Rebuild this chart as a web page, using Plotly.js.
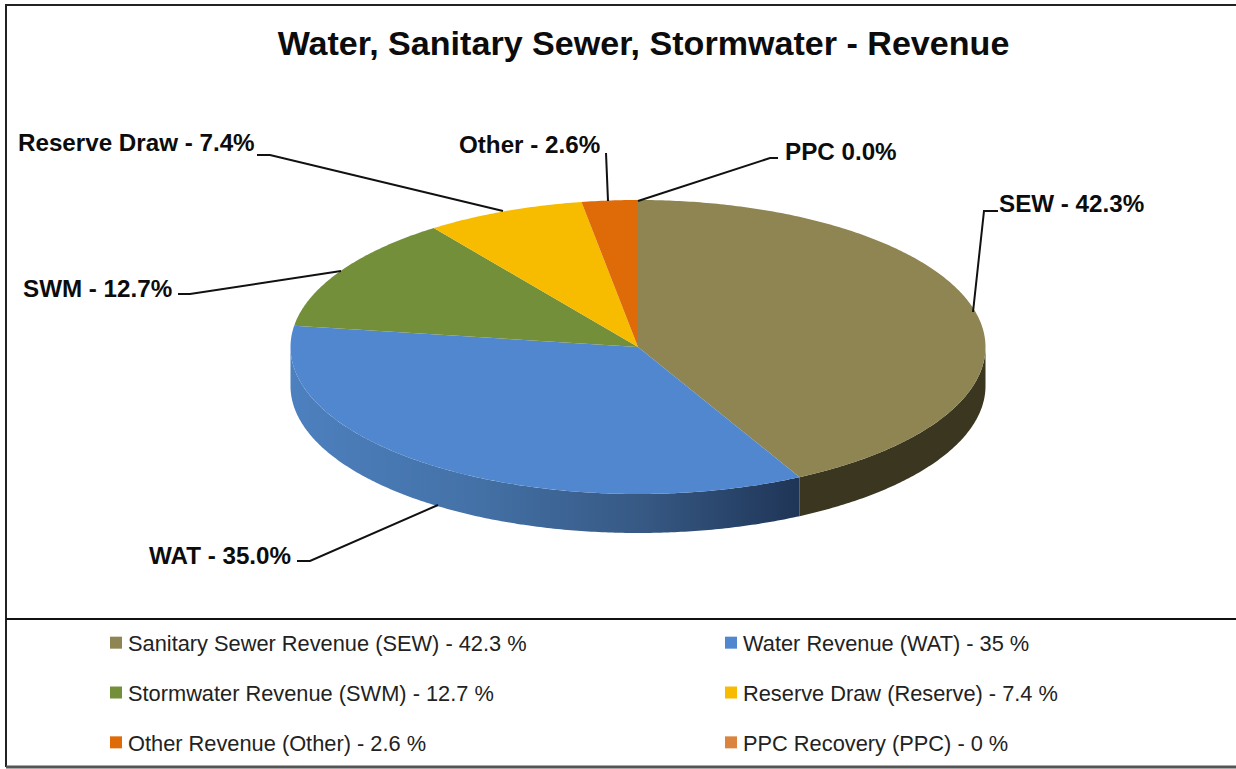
<!DOCTYPE html>
<html><head><meta charset="utf-8">
<script src="https://cdn.plot.ly/plotly-3.0.1.min.js"></script>
<style>html,body{margin:0;padding:0;background:#fff}#c{width:1236px;height:769px}</style>
</head><body><div id="c"></div>
<script>
const titleText = 'Water, Sanitary Sewer, Stormwater - Revenue';
const codes = ['SEW','WAT','SWM','Reserve Draw','Other','PPC'];
const names = ['Sanitary Sewer Revenue (SEW)','Water Revenue (WAT)','Stormwater Revenue (SWM)','Reserve Draw (Reserve)','Other Revenue (Other)','PPC Recovery (PPC)'];
const values = [42.3,35.0,12.7,7.4,2.6,0.0];
const legendValues = ['42.3','35','12.7','7.4','2.6','0'];
const colors = ['#8E8553','#5187CF','#738F3A','#F7BC00','#DE6A08','#DB843D'];

const W=1236,H=769,CX=638,CY=347,RX=347.5,RY=147,DEPTH=39;
const X=p=>(p-CX)/RX, Y=p=>(CY-p)/RY;
const depthU=DEPTH/RY;
const pts=(a0,a1,dy)=>{const n=Math.max(2,Math.ceil((a1-a0)/0.01));const xs=[],ys=[];
  for(let i=0;i<=n;i++){const a=a0+(a1-a0)*i/n;xs.push(Math.sin(a));ys.push(Math.cos(a)-dy);}return [xs,ys];};
const total=values.reduce((a,b)=>a+b,0);
const traces=[];
let acc=0;const wedges=values.map(v=>{const a0=acc/total*2*Math.PI;acc+=v;return [a0,acc/total*2*Math.PI];});
const wall=(a0,a1,extra)=>{const [tx,ty]=pts(a0,a1,0);const [bx,by]=pts(a0,a1,depthU);
  return Object.assign({type:'scatter',mode:'none',x:tx.concat(bx.reverse()),y:ty.concat(by.reverse()),fill:'toself',showlegend:false,hoverinfo:'skip'},extra);};
const hi=Math.PI*1.5;
traces.push(wall(Math.PI/2,wedges[0][1],{fillcolor:'#3B3620'}));
traces.push(wall(wedges[1][0],hi,{fillgradient:{type:'horizontal',start:X(290),stop:X(799),colorscale:[[0,'#4D80BF'],[0.35,'#4472A8'],[0.7,'#365883'],[1,'#1F3557']]}}));
values.forEach((v,i)=>{const [xs,ys]=pts(wedges[i][0],wedges[i][1],0);
  traces.push({type:'scatter',mode:'none',x:[0].concat(xs,[0]),y:[0].concat(ys,[0]),fill:'toself',fillcolor:colors[i],showlegend:false,name:codes[i],hoverinfo:'name'});});
const legendOf=['legend','legend2'];
values.forEach((v,i)=>{traces.push({type:'scatter',mode:'markers',x:[null],y:[null],name:names[i]+' - '+legendValues[i]+' %',
  marker:{symbol:'square',size:12,color:colors[i]},legend:legendOf[i%2],legendgroup:'g'+i,showlegend:true});});

const lab=(i,sep)=>codes[i]+sep+values[i].toFixed(1)+'%';
const LF={family:'Liberation Sans, Arial, sans-serif',size:24.2,color:'#0c0c0c'};
const note=(text,xp,yp,anchor)=>({text:'<b>'+text+'</b>',xref:'x',yref:'y',x:X(xp),y:Y(yp),xanchor:anchor,yanchor:'middle',showarrow:false,font:LF});
const annotations=[
 note(lab(0,' - '),997,203,'left'),
 note(lab(1,' - '),293,555,'right'),
 note(lab(2,' - '),174,288,'right'),
 note(lab(3,' - '),257,142,'right'),
 note(lab(4,' - '),602,144,'right'),
 note(lab(5,' '),783,151,'left'),
];
const pathOf=arr=>arr.map((p,i)=>(i?'L':'M')+X(p[0])+','+Y(p[1])).join(' ');
const poly=(arr)=>({type:'path',xref:'x',yref:'y',layer:'above',path:pathOf(arr),line:{color:'#111',width:2}});
const frame=(arr,c,w)=>({type:'path',xref:'x',yref:'y',layer:'below',path:pathOf(arr),line:{color:c,width:w}});
const shapes=[
 poly([[998,211],[984,211],[973,312]]),
 poly([[297,561],[310,561],[438,505]]),
 poly([[178,294],[190,294],[341,271]]),
 poly([[257,155],[270,155],[503,211]]),
 poly([[606,153],[608,201]]),
 poly([[638,201],[770,158],[778,158]]),
 frame([[1236,5],[6,5],[6,767]],'#222',2),
 frame([[6,619],[1236,619]],'#111',2),
 frame([[6,767],[1236,767]],'#555',3),
];
const LGF={family:'Liberation Sans, Arial, sans-serif',size:21.8,color:'#222'};
const leg=(xp)=>({x:xp/W,y:1-622/H,xanchor:'left',yanchor:'top',orientation:'v',tracegroupgap:18.5,bgcolor:'rgba(0,0,0,0)',borderwidth:0,font:LGF,itemclick:false,itemdoubleclick:false});
const layout={width:W,height:H,margin:{l:0,r:0,t:0,b:0},paper_bgcolor:'#fff',plot_bgcolor:'#fff',
 title:{text:'<b>'+titleText+'</b>',font:{family:'Liberation Sans, Arial, sans-serif',size:34.1,color:'#0c0c0c'},x:643.5/W,xanchor:'center',y:1-43/H,yanchor:'middle'},
 xaxis:{range:[X(0),X(W)],visible:false,fixedrange:true},
 yaxis:{range:[Y(H),Y(0)],visible:false,fixedrange:true},
 legend:leg(88),legend2:leg(703),annotations,shapes,showlegend:true,hovermode:false};
Plotly.newPlot('c',traces,layout,{displayModeBar:false}).then(gd=>{
 gd.querySelectorAll('.legendpoints').forEach(n=>{n.setAttribute('transform','translate(8,0)');});
});
</script></body></html>
